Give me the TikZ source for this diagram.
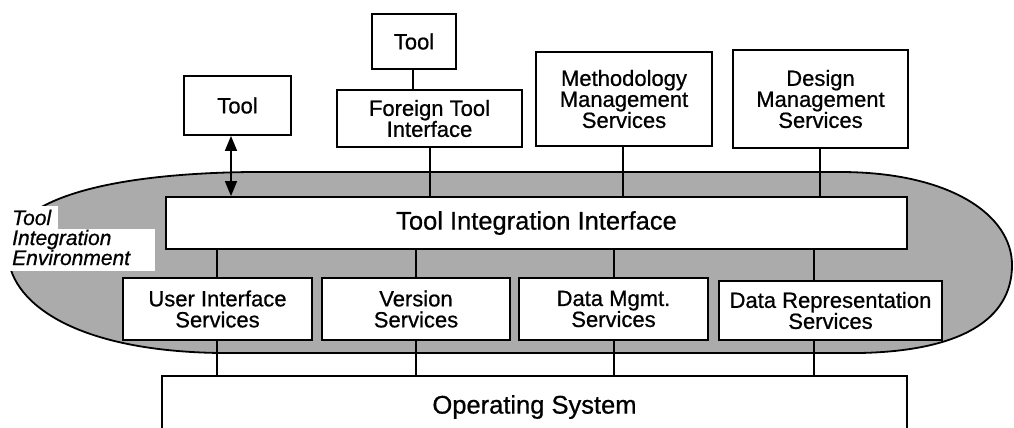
\documentclass[tikz,border=0pt]{standalone}
\usepackage{fontspec}
\setmainfont{Liberation Sans}[FakeBold=0.7]
\usetikzlibrary{arrows.meta}
\tikzset{
  box/.style={draw=black, line width=1.8pt, fill=white, inner sep=0pt, align=center,
    font=\fontsize{22}{21}\selectfont},
  bigbox/.style={box, font=\fontsize{25.5}{26}\selectfont},
  conn/.style={line width=1.6pt},
  envfill/.style={fill=black!33, draw=black, line width=1.8pt},
  envlabel/.style={inner sep=0pt, anchor=base west,
    font=\fontsize{21}{20}\selectfont\itshape}
}
\begin{document}
\begin{tikzpicture}[x=1pt,y=-1pt]
\useasboundingbox (0,0) rectangle (1014,428);
\clip (0,0) rectangle (1014,428);
% environment blob
\path[envfill] (8,252) .. controls (8,205) and (90,174) .. (250,172)
  -- (840,172) .. controls (950,172) and (1012,215) .. (1012,265)
  .. controls (1012,320) and (960,351) .. (860,353)
  -- (220,353) .. controls (70,351) and (8,300) .. (8,252) -- cycle;
% label
\fill[white] (0,206) rectangle (58,229);
\fill[white] (0,229) rectangle (155,271);
\node[envlabel] (envl1) at (12,225) {Tool};
\node[envlabel] (envl2) at (12,245) {Integration};
\node[envlabel] (envl3) at (12,265) {Environment};
% boxes
\node[box, minimum width=107pt, minimum height=59pt] (tool1) at (237.5,105.5) {Tool};
\node[box, minimum width=84pt, minimum height=55pt] (tool2) at (414,41.5) {Tool};
\node[box, minimum width=185pt, minimum height=57pt] (fti) at (429.5,118.5) {Foreign Tool\\Interface};
\node[box, minimum width=176pt, minimum height=94pt] (mms) at (624,99) {Methodology\\Management\\Services};
\node[box, minimum width=175pt, minimum height=98pt] (dms) at (820.5,99) {Design\\Management\\Services};
\node[bigbox, minimum width=741pt, minimum height=52pt] (tii) at (536.5,223) {Tool Integration Interface};
\node[box, minimum width=189pt, minimum height=62pt] (ui) at (217.5,309) {User Interface\\Services};
\node[box, minimum width=188pt, minimum height=62pt] (ver) at (416,309) {Version\\Services};
\node[box, minimum width=189pt, minimum height=62pt] (dm) at (613.5,309) {Data Mgmt.\\Services};
\node[box, minimum width=223pt, minimum height=59pt] (dr) at (830.5,310.5) {Data Representation\\Services};
\node[bigbox, minimum width=745pt, minimum height=62pt] (os) at (534.5,407) {Operating System};
% connector x positions
\coordinate (xa) at (231,0);
\coordinate (xt) at (413,0);
\coordinate (xf) at (430,0);
\coordinate (xm) at (623,0);
\coordinate (xd) at (820,0);
\coordinate (x1) at (217,0);
\coordinate (x2) at (416,0);
\coordinate (x3) at (614,0);
\coordinate (x4) at (814,0);
% connectors
\draw[conn, {Triangle[length=15pt,width=12pt]}-{Triangle[length=15pt,width=12pt]}]
  (tool1.south -| xa) -- (tii.north -| xa);
\draw[conn] (tool2.south -| xt) -- (fti.north -| xt);
\draw[conn] (fti.south -| xf) -- (tii.north -| xf);
\draw[conn] (mms.south -| xm) -- (tii.north -| xm);
\draw[conn] (dms.south -| xd) -- (tii.north -| xd);
\draw[conn] (tii.south -| x1) -- (ui.north -| x1);
\draw[conn] (tii.south -| x2) -- (ver.north -| x2);
\draw[conn] (tii.south -| x3) -- (dm.north -| x3);
\draw[conn] (tii.south -| x4) -- (dr.north -| x4);
\draw[conn] (ui.south -| x1) -- (os.north -| x1);
\draw[conn] (ver.south -| x2) -- (os.north -| x2);
\draw[conn] (dm.south -| x3) -- (os.north -| x3);
\draw[conn] (dr.south -| x4) -- (os.north -| x4);
\end{tikzpicture}
\end{document}
